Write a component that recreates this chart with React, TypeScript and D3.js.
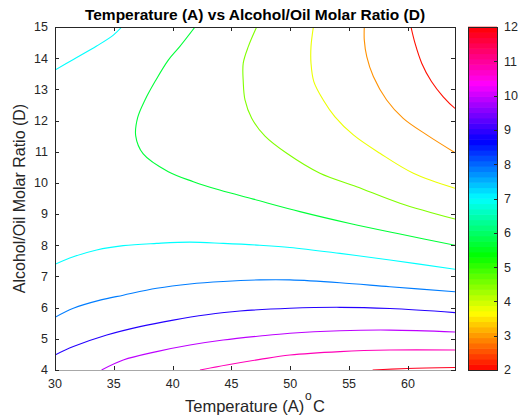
import * as d3 from 'd3';

// contour lines: [temperature, molar ratio]
const levelRedTop = [[60.26, 15], [60.6, 14.48], [61.17, 13.84], [62.0, 13.25], [63.0, 12.76], [64, 12.39]];
const levelOrange = [[56.29, 15], [56.29, 14.58], [56.5, 14.05], [57.06, 13.41], [58.19, 12.66], [59.6, 12.07], [61.6, 11.54], [64, 10.97]];
const levelYellow = [[51.96, 15], [51.76, 14.37], [51.76, 13.84], [52.0, 13.25], [52.8, 12.66], [53.8, 12.12], [55.36, 11.54], [57.62, 10.95], [60.46, 10.31], [64, 9.83]];
const levelYellowGreen = [[47.14, 15], [46.43, 14.37], [46.0, 13.84], [46.0, 13.25], [46.15, 12.66], [46.72, 12.07], [47.85, 11.5], [49.7, 10.95], [52.52, 10.31], [55.64, 9.88], [59.32, 9.35], [64, 8.84]];
const levelGreen = [[41.9, 15], [40.6, 14.37], [39.63, 13.94], [38.5, 13.25], [37.65, 12.66], [37.03, 12.1], [36.86, 11.51], [37.5, 10.93], [39.63, 10.36], [41.76, 10.04], [44.0, 9.77], [46.86, 9.48], [50.82, 9.08], [55.07, 8.7], [59.32, 8.36], [64, 8.0]];
const levelCyanTop = [[30, 13.62], [31.56, 13.96], [33.54, 14.39], [34.96, 14.74], [35.67, 15]];
const levelCyan = [[30, 7.39], [31.56, 7.63], [33.54, 7.85], [35.8, 7.99], [38.64, 8.06], [41.47, 8.1], [44.3, 8.06], [47.42, 8.0], [49.97, 7.93], [54.22, 7.74], [58.47, 7.53], [64, 7.23]];
const levelLightBlue = [[30, 5.69], [31.56, 5.98], [33.83, 6.24], [35.8, 6.4], [38.64, 6.62], [41.47, 6.76], [44.3, 6.84], [47.42, 6.89], [49.97, 6.89], [54.22, 6.8], [58.47, 6.67], [64, 6.51]];
const levelBlue = [[30, 4.48], [31.56, 4.75], [34.4, 5.12], [37.22, 5.39], [40.05, 5.6], [42.89, 5.77], [45.72, 5.89], [49.97, 5.98], [54.22, 6.01], [58.47, 5.97], [64, 5.84]];
const levelViolet = [[33.96, 4.0], [35.8, 4.32], [38.64, 4.59], [41.47, 4.8], [44.3, 4.96], [47.42, 5.09], [49.97, 5.18], [54.22, 5.26], [58.47, 5.28], [64, 5.22]];
const levelPink = [[42.32, 4.0], [44.59, 4.16], [47.42, 4.34], [49.97, 4.48], [54.22, 4.59], [58.47, 4.64], [64, 4.64]];
const levelRedBottom = [[57.0, 4.0], [59.9, 4.05], [64, 4.08]];

const contours = [
  { level: 2.1, points: levelRedTop },
  { level: 2.95, points: levelOrange },
  { level: 3.8, points: levelYellow },
  { level: 4.5, points: levelYellowGreen },
  { level: 5.7, points: levelGreen },
  { level: 7.0, points: levelCyanTop },
  { level: 7.0, points: levelCyan },
  { level: 7.85, points: levelLightBlue },
  { level: 8.9, points: levelBlue },
  { level: 9.9, points: levelViolet },
  { level: 10.8, points: levelPink },
  { level: 11.8, points: levelRedBottom },
];

const xTicks = [30, 35, 40, 45, 50, 55, 60];
const yTicks = [4, 5, 6, 7, 8, 9, 10, 11, 12, 13, 14, 15];
const cbTicks = [2, 3, 4, 5, 6, 7, 8, 9, 10, 11, 12];

const W = 519;
const H = 416;
const plot = { left: 55, right: 455, top: 27, bottom: 370 };
const cb = { left: 468, right: 497 };
const axisColor = '#262626';
const font = '"Liberation Sans", Arial, sans-serif';

// hsv colormap, 2 -> red, 12 -> red
const hsvColor = (v: number) => d3.hsl(((v - 2) / 10) * 360, 1, 0.5).formatHex();

export default function App() {
  const x = d3.scaleLinear().domain([30, 64]).range([plot.left, plot.right]);
  const y = d3.scaleLinear().domain([4, 15]).range([plot.bottom, plot.top]);
  const c = d3.scaleLinear().domain([2, 12]).range([plot.bottom, plot.top]);

  const line = d3
    .line<number[]>()
    .x((d) => x(d[0]))
    .y((d) => y(d[1]))
    .curve(d3.curveCatmullRom.alpha(0.5));

  const bands = d3.range(64).map((i) => 2 + (i * 10) / 64);
  const bandH = (plot.bottom - plot.top) / 64;

  return (
    <svg width={W} height={H} style={{ position: 'absolute', left: 0, top: 0, background: '#fff' }} fontFamily={font}>
      <rect x={0} y={0} width={W} height={H} fill="#fff" />
      <defs>
        <clipPath id="plotClip">
          <rect x={plot.left} y={plot.top} width={plot.right - plot.left} height={plot.bottom - plot.top} />
        </clipPath>
      </defs>

      <text x={(plot.left + plot.right) / 2} y={20} textAnchor="middle" fontSize={15.5} fontWeight="bold" fill="#000">
        Temperature (A) vs Alcohol/Oil Molar Ratio (D)
      </text>

      <g clipPath="url(#plotClip)">
        {contours.map((ct, i) => (
          <path key={i} d={line(ct.points) || ''} fill="none" stroke={hsvColor(ct.level)} strokeWidth={1.1} />
        ))}
      </g>

      {/* axes box */}
      <line x1={plot.left} x2={plot.right} y1={plot.top + 0.5} y2={plot.top + 0.5} stroke={axisColor} />
      <line x1={plot.left} x2={plot.right} y1={plot.bottom + 0.5} y2={plot.bottom + 0.5} stroke="#a8a8a8" />
      <line x1={plot.left + 0.5} x2={plot.left + 0.5} y1={plot.top} y2={plot.bottom + 1} stroke={axisColor} />
      <line x1={plot.right + 0.5} x2={plot.right + 0.5} y1={plot.top} y2={plot.bottom + 1} stroke={axisColor} />

      {xTicks.map((t) => (
        <g key={'x' + t}>
          <line x1={Math.round(x(t)) + 0.5} x2={Math.round(x(t)) + 0.5} y1={plot.bottom} y2={plot.bottom - 4} stroke={axisColor} />
          <line x1={Math.round(x(t)) + 0.5} x2={Math.round(x(t)) + 0.5} y1={plot.top} y2={plot.top + 4} stroke={axisColor} />
          <text x={x(t)} y={388} textAnchor="middle" fontSize={12.5} fill={axisColor}>
            {t}
          </text>
        </g>
      ))}

      {yTicks.map((t) => (
        <g key={'y' + t}>
          <line x1={plot.left} x2={plot.left + 4} y1={Math.round(y(t)) + 0.5} y2={Math.round(y(t)) + 0.5} stroke={axisColor} />
          <line x1={plot.right} x2={plot.right - 4} y1={Math.round(y(t)) + 0.5} y2={Math.round(y(t)) + 0.5} stroke={axisColor} />
          <text x={48} y={y(t) + 4.4} textAnchor="end" fontSize={12.5} fill={axisColor}>
            {t}
          </text>
        </g>
      ))}

      <text x={185} y={412} fontSize={16.5} fill={axisColor}>
        Temperature (A)
      </text>
      <text x={305} y={400} fontSize={12} fill={axisColor}>
        o
      </text>
      <text x={313} y={412} fontSize={16.5} fill={axisColor}>
        C
      </text>

      <text
        transform={`translate(25, ${(plot.top + plot.bottom) / 2}) rotate(-90)`}
        textAnchor="middle"
        fontSize={16}
        fill={axisColor}
      >
        Alcohol/Oil Molar Ratio (D)
      </text>

      {/* colorbar */}
      {bands.map((b, i) => (
        <rect
          key={'b' + i}
          x={cb.left}
          y={c(b) - bandH - 0.3}
          width={cb.right - cb.left}
          height={bandH + 0.6}
          fill={hsvColor(b + 10 / 128)}
        />
      ))}
      <rect x={cb.left + 0.5} y={plot.top + 0.5} width={cb.right - cb.left} height={plot.bottom - plot.top} fill="none" stroke={axisColor} />
      {cbTicks.map((t) => (
        <g key={'c' + t}>
          <line x1={cb.right} x2={cb.right - 3} y1={Math.round(c(t)) + 0.5} y2={Math.round(c(t)) + 0.5} stroke={axisColor} />
          <text x={504} y={c(t) + 4.4} fontSize={12.5} fill={axisColor}>
            {t}
          </text>
        </g>
      ))}
    </svg>
  );
}
